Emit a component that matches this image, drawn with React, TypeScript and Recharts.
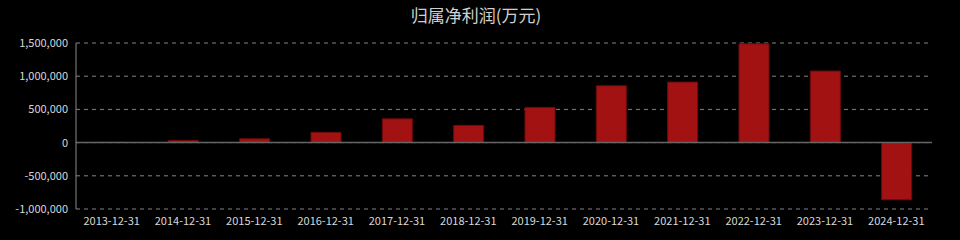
import React from "react";
import { Bar, BarChart, CartesianGrid, ReferenceLine, XAxis, YAxis } from "recharts";

const years = [
  "2013-12-31", "2014-12-31", "2015-12-31", "2016-12-31", "2017-12-31", "2018-12-31",
  "2019-12-31", "2020-12-31", "2021-12-31", "2022-12-31", "2023-12-31", "2024-12-31",
];
const profit = [5000, 33000, 57000, 154000, 358000, 259000, 530000, 855000, 911000, 1488000, 1077000, -861000];
const yTicks = [-1000000, -500000, 0, 500000, 1000000, 1500000];

const data = years.map((date, i) => ({ date, profit: profit[i] }));

const font = "'Noto Sans CJK SC', 'Noto Sans', sans-serif";
const fmt = (v: number) => v.toLocaleString("en-US");

export default function App() {
  return (
    <div style={{ position: "absolute", left: 0, top: 0, width: 960, height: 240, background: "#000", fontFamily: font }}>
      <div style={{ position: "absolute", top: 2, left: -4, width: 960, textAlign: "center", color: "#d0d0d0", fontSize: 17 }}>
        归属净利润(万元)
      </div>
      <BarChart width={960} height={240} data={data} margin={{ top: 43, right: 28, left: 0, bottom: 0 }}>
        <CartesianGrid vertical={false} stroke="#858585" strokeDasharray="4 4" />
        <XAxis
          dataKey="date"
          height={31}
          axisLine={false}
          tickLine={false}
          interval={0}
          tick={{ fill: "#d8d8d8", fontSize: 11, fontFamily: font }}
        />
        <YAxis
          width={76}
          domain={[-1000000, 1500000]}
          ticks={yTicks}
          tickFormatter={fmt}
          axisLine={{ stroke: "#8a8a8a" }}
          tickLine={false}
          tick={{ fill: "#d8d8d8", fontSize: 11, fontFamily: font }}
        />
        <ReferenceLine y={0} stroke="#666666" strokeWidth={1.5} />
        <Bar dataKey="profit" fill="#a31212" stroke="#6e0c0c" barSize={30} isAnimationActive={false} />
      </BarChart>
    </div>
  );
}
